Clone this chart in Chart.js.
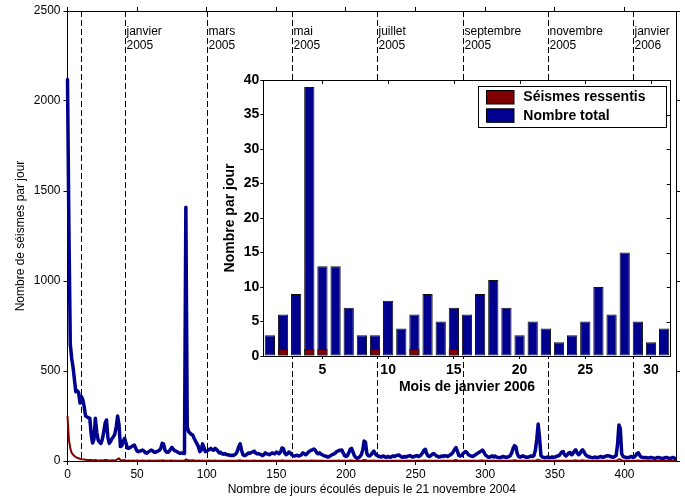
<!DOCTYPE html>
<html>
<head>
<meta charset="utf-8">
<script src="https://cdn.jsdelivr.net/npm/chart.js@4.4.0/dist/chart.umd.min.js"></script>
<style>
  html, body { margin: 0; padding: 0; background: #fff; }
  #wrap { position: relative; width: 685px; height: 499px; }
  #mainChart { position: absolute; left: 0; top: 0; }
  #insetChart { position: absolute; left: 200px; top: 60px; }
</style>
</head>
<body>
<div id="wrap">
  <canvas id="mainChart" width="685" height="499"></canvas>
  <canvas id="insetChart" width="485" height="340"></canvas>
</div>
<script>
// nombre total de seismes par jour, jour 0 = 21 novembre 2004
var totalPerDay = [
  2120, 1300, 650, 570, 520, 450, 385, 390, 380, 322,
  357, 340, 300, 250, 245, 240, 238, 150, 100, 120,
  238, 160, 117, 105, 98, 120, 160, 210, 228, 130,
  98, 110, 125, 135, 150, 190, 250, 200, 80, 85,
  110, 126, 100, 72, 70, 75, 80, 85, 89, 70,
  55, 52, 55, 58, 61, 55, 45, 43, 50, 55,
  61, 58, 50, 48, 52, 55, 60, 70, 98, 95,
  60, 50, 48, 55, 65, 76, 65, 57, 55, 50,
  45, 43, 45, 43, 42, 1410, 190, 163, 155, 148,
  144, 125, 110, 95, 80, 52, 60, 95, 75, 52,
  55, 60, 65, 70, 62, 60, 70, 65, 55, 45,
  48, 40, 38, 42, 36, 35, 33, 30, 32, 30,
  35, 40, 55, 80, 95, 60, 35, 30, 32, 38,
  45, 42, 48, 50, 55, 45, 40, 42, 38, 35,
  30, 35, 45, 40, 38, 35, 40, 45, 42, 40,
  50, 45, 40, 50, 72, 70, 45, 35, 40, 50,
  45, 35, 30, 28, 30, 32, 28, 30, 35, 45,
  40, 35, 40, 50, 55, 60, 62, 67, 60, 45,
  40, 45, 38, 35, 30, 28, 25, 22, 25, 30,
  35, 38, 42, 50, 55, 58, 60, 61, 45, 30,
  25, 30, 45, 65, 70, 50, 30, 20, 15, 18,
  25, 35, 60, 111, 105, 40, 30, 28, 35, 45,
  55, 40, 32, 30, 25, 22, 25, 28, 22, 20,
  25, 22, 20, 25, 28, 25, 30, 32, 33, 28,
  22, 20, 25, 22, 25, 28, 30, 25, 22, 25,
  28, 30, 25, 28, 35, 45, 60, 65, 40, 28,
  25, 30, 38, 42, 35, 28, 25, 22, 25, 28,
  25, 30, 28, 25, 30, 35, 40, 50, 65, 74,
  55, 30, 28, 30, 40, 48, 52, 45, 35, 30,
  28, 25, 30, 35, 40, 45, 50, 55, 61, 50,
  35, 28, 22, 20, 25, 28, 22, 28, 22, 20,
  18, 20, 22, 25, 22, 20, 22, 25, 30, 45,
  70, 85, 80, 40, 25, 22, 25, 28, 25, 22,
  20, 22, 25, 28, 25, 30, 60, 120, 205, 130,
  30, 22, 20, 18, 20, 22, 18, 20, 22, 20,
  22, 25, 28, 30, 40, 50, 52, 35, 28, 35,
  45, 47, 35, 40, 55, 62, 45, 35, 40, 55,
  62, 50, 35, 28, 25, 22, 20, 18, 20, 22,
  18, 20, 22, 25, 22, 20, 25, 28, 30, 28,
  25, 22, 20, 25, 30, 90, 200, 180, 40, 25,
  22, 20, 18, 20, 22, 25, 20, 22, 30, 42,
  46, 30, 22, 20, 18, 20, 18, 16, 18, 20,
  18, 16, 15, 18, 20, 18, 16, 15, 15, 18,
  20, 18, 15, 14, 18, 20, 15, 12
];

// seismes ressentis par jour
var feltPerDay = [
  250, 120, 70, 45, 35, 28, 22, 18, 15, 12,
  10, 9, 8, 7, 6, 6, 5, 5, 4, 4,
  6, 4, 3, 3, 4, 3, 4, 5, 6, 4,
  3, 3, 4, 3, 4, 6, 10, 15, 5, 3,
  4, 5, 3, 2, 3, 2, 2, 3, 2, 2,
  3, 2, 1, 2, 3, 2, 1, 2, 2, 3,
  2, 1, 2, 2, 1, 3, 2, 2, 4, 3,
  2, 1, 2, 2, 3, 3, 2, 1, 2, 2,
  1, 2, 2, 1, 2, 9, 5, 4, 3, 3,
  4, 3, 2, 2, 3, 1, 2, 3, 2, 1,
  2, 2, 3, 2, 1, 2, 3, 2, 2, 1,
  1, 2, 1, 1, 2, 1, 1, 2, 1, 1,
  1, 2, 2, 3, 4, 2, 1, 1, 1, 2,
  2, 1, 2, 2, 3, 2, 1, 1, 2, 1,
  1, 1, 2, 1, 1, 1, 2, 2, 1, 1,
  2, 1, 1, 2, 3, 3, 2, 1, 1, 2,
  1, 1, 1, 0, 1, 1, 0, 1, 1, 2,
  1, 1, 1, 2, 2, 3, 2, 3, 2, 1,
  1, 2, 1, 1, 1, 0, 1, 0, 1, 1,
  1, 1, 2, 2, 2, 3, 2, 2, 1, 1,
  1, 1, 2, 3, 3, 2, 1, 0, 0, 1,
  1, 1, 3, 6, 5, 2, 1, 1, 1, 2,
  3, 2, 1, 1, 1, 0, 1, 1, 0, 1,
  1, 0, 1, 1, 1, 1, 1, 2, 1, 1,
  1, 0, 1, 1, 1, 1, 1, 1, 0, 1,
  1, 1, 1, 1, 1, 2, 3, 3, 1, 1,
  1, 1, 2, 2, 1, 1, 1, 0, 1, 1,
  1, 1, 1, 1, 1, 2, 2, 2, 4, 6,
  3, 1, 1, 1, 2, 2, 2, 2, 1, 1,
  1, 1, 1, 1, 2, 2, 2, 3, 3, 2,
  1, 1, 1, 0, 1, 1, 1, 1, 1, 0,
  0, 1, 1, 1, 1, 1, 1, 1, 1, 2,
  3, 4, 3, 2, 1, 1, 1, 1, 1, 1,
  1, 1, 1, 1, 1, 1, 2, 5, 8, 5,
  1, 1, 1, 0, 1, 1, 0, 1, 1, 1,
  1, 1, 1, 1, 2, 2, 2, 1, 1, 1,
  2, 2, 1, 2, 3, 4, 2, 1, 2, 3,
  4, 2, 1, 1, 1, 1, 0, 0, 1, 1,
  0, 1, 1, 1, 1, 0, 1, 1, 1, 1,
  1, 1, 0, 1, 1, 4, 10, 8, 2, 1,
  1, 1, 0, 1, 1, 1, 1, 1, 2, 2,
  3, 1, 1, 1, 0, 1, 0, 0, 1, 1,
  1, 0, 0, 1, 1, 0, 0, 0, 0, 1,
  1, 1, 0, 0, 1, 1, 0, 0
];

var dayTicks = [0, 50, 100, 150, 200, 250, 300, 350, 400];
var countTicks = [0, 500, 1000, 1500, 2000, 2500];

// debut de mois (jours depuis le 21/11/2004)
var monthStarts = [10, 41, 100, 161, 222, 284, 345, 406];
var monthNames = ['', 'janvier', 'mars', 'mai', 'juillet', 'septembre', 'novembre', 'janvier'];
var monthYears = ['', '2005', '2005', '2005', '2005', '2005', '2005', '2006'];

// encart : janvier 2006
var janDays = [1, 2, 3, 4, 5, 6, 7, 8, 9, 10, 11, 12, 13, 14, 15, 16, 17, 18, 19, 20, 21, 22, 23, 24, 25, 26, 27, 28, 29, 30, 31];
var janTotal = [3, 6, 9, 39, 13, 13, 7, 3, 3, 8, 4, 6, 9, 5, 7, 6, 9, 11, 7, 3, 5, 4, 2, 3, 5, 10, 6, 15, 5, 2, 4];
var janFelt = [0, 1, 0, 1, 1, 0, 0, 0, 1, 0, 0, 1, 0, 0, 1, 0, 0, 0, 0, 0, 0, 0, 0, 0, 0, 0, 0, 0, 0, 0, 0];
var janTicksX = [5, 10, 15, 20, 25, 30];
var janTicksY = [0, 5, 10, 15, 20, 25, 30, 35, 40];

const BLUE = '#00008f';
const RED = '#800000';

Chart.defaults.font.family = '"Liberation Sans", Arial, sans-serif';
Chart.defaults.color = '#000';

function setTicks(values) {
    return function (scale) {
        scale.ticks = values.map(v => ({ value: v }));
    };
}
const plainLabel = v => String(v);

const monthLines = {
    id: 'monthLines',
    beforeDatasetsDraw(chart) {
        const ctx = chart.ctx;
        const a = chart.chartArea;
        const x = chart.scales.x;
        ctx.save();
        ctx.strokeStyle = '#000';
        ctx.lineWidth = 1;
        ctx.setLineDash([6, 3]);
        ctx.fillStyle = '#000';
        ctx.font = '12px "Liberation Sans", Arial, sans-serif';
        ctx.textBaseline = 'alphabetic';
        monthStarts.forEach((d, i) => {
            const px = Math.round(x.getPixelForValue(d)) + 0.5;
            ctx.beginPath();
            ctx.moveTo(px, a.top);
            ctx.lineTo(px, a.bottom);
            ctx.stroke();
            if (monthNames[i]) {
                ctx.fillText(monthNames[i], px + 1, a.top + 23.5);
                ctx.fillText(monthYears[i], px + 1, a.top + 37.5);
            }
        });
        ctx.restore();
    }
};

var mainChart = new Chart(document.getElementById('mainChart'), {
    type: 'line',
    data: {
        datasets: [{
            label: 'Séismes ressentis',
            data: feltPerDay.map((v, i) => ({ x: i, y: v })),
            xAxisID: 'x', yAxisID: 'y',
            borderColor: RED,
            borderWidth: 2,
            pointRadius: 0,
            borderJoinStyle: 'round',
            clip: { left: 3, top: 0, right: 0, bottom: 2 }
        }, {
            label: 'Nombre total',
            data: totalPerDay.map((v, i) => ({ x: i, y: v })),
            xAxisID: 'x', yAxisID: 'y',
            borderColor: BLUE,
            borderWidth: 3.5,
            pointRadius: 0,
            borderJoinStyle: 'round',
            borderCapStyle: 'round',
            clip: { left: 3, top: 0, right: 0, bottom: 2 }
        }]
    },
    options: {
        responsive: false,
        animation: false,
        layout: { padding: 0 },
        plugins: { legend: { display: false }, tooltip: { enabled: false } },
        scales: {
            x: {
                type: 'linear', position: 'bottom', min: 0, max: 437,
                afterBuildTicks: setTicks(dayTicks),
                afterFit: s => { s.height = 38; },
                grid: { drawOnChartArea: false, tickLength: 4, color: '#000' },
                border: { color: '#000' },
                ticks: { font: { size: 12 }, padding: 2, maxRotation: 0, callback: plainLabel },
                title: {
                    display: true, text: 'Nombre de jours écoulés depuis le 21 novembre 2004',
                    font: { size: 12 }, padding: { top: 0, bottom: 2 }
                }
            },
            xTop: {
                type: 'linear', position: 'top', min: 0, max: 437,
                afterBuildTicks: setTicks(dayTicks),
                afterFit: s => { s.height = 11; },
                grid: { drawOnChartArea: false, tickLength: 4, color: '#000' },
                border: { color: '#000' },
                ticks: { display: false }
            },
            y: {
                type: 'linear', position: 'left', min: 0, max: 2500,
                afterBuildTicks: setTicks(countTicks),
                afterFit: s => { s.width = 67.5; },
                grid: { drawOnChartArea: false, tickLength: 4, color: '#000' },
                border: { color: '#000' },
                ticks: { font: { size: 12 }, padding: 3, callback: plainLabel },
                title: {
                    display: true, text: 'Nombre de séismes par jour',
                    font: { size: 12 }, padding: { top: 13, bottom: 0 }
                }
            },
            yRight: {
                type: 'linear', position: 'right', min: 0, max: 2500,
                afterBuildTicks: setTicks(countTicks),
                afterFit: s => { s.width = 9; },
                grid: { drawOnChartArea: false, tickLength: 4, color: '#000' },
                border: { color: '#000' },
                ticks: { display: false }
            }
        }
    },
    plugins: [monthLines]
});

const insetFrame = {
    id: 'insetFrame',
    beforeDraw(chart) {
        const a = chart.chartArea;
        chart.ctx.save();
        chart.ctx.fillStyle = '#fff';
        chart.ctx.fillRect(a.left, a.top, a.right - a.left, a.bottom - a.top);
        chart.ctx.restore();
    },
    afterDraw(chart) {
        const ctx = chart.ctx;
        const a = chart.chartArea;
        const sx = chart.scales.x;
        const sy = chart.scales.y;
        ctx.save();
        ctx.strokeStyle = '#000';
        ctx.lineWidth = 1;
        ctx.strokeRect(Math.round(a.left) + 0.5, Math.round(a.top) + 0.5,
            Math.round(a.right - a.left), Math.round(a.bottom - a.top));
        // petites graduations vers l'interieur en haut et a droite
        ctx.beginPath();
        janTicksX.forEach(v => {
            const px = Math.round(sx.getPixelForValue(v)) + 0.5;
            ctx.moveTo(px, a.top);
            ctx.lineTo(px, a.top + 4);
        });
        janTicksY.forEach(v => {
            const py = Math.round(sy.getPixelForValue(v)) + 0.5;
            ctx.moveTo(a.right - 4, py);
            ctx.lineTo(a.right, py);
        });
        ctx.stroke();

        // legende
        ctx.fillStyle = '#fff';
        ctx.fillRect(278.5, 26.5, 188, 41);
        ctx.strokeRect(278.5, 26.5, 188, 41);
        ctx.font = 'bold 14px "Liberation Sans", Arial, sans-serif';
        ctx.textBaseline = 'middle';
        chart.data.datasets.forEach((ds, i) => {
            const top = 30.5 + i * 18.3;
            ctx.fillStyle = ds.backgroundColor;
            ctx.fillRect(286.5, top, 27.5, 13.5);
            ctx.strokeRect(286.5, top, 27.5, 13.5);
            ctx.fillStyle = '#000';
            ctx.fillText(ds.label, 323.3, top + 7);
        });
        ctx.restore();
    }
};

var insetChart = new Chart(document.getElementById('insetChart'), {
    type: 'bar',
    data: {
        datasets: [{
            label: 'Séismes ressentis',
            data: janDays.map((d, i) => ({ x: d, y: janFelt[i] || null })),
            backgroundColor: RED
        }, {
            label: 'Nombre total',
            data: janDays.map((d, i) => ({ x: d, y: janTotal[i] })),
            backgroundColor: BLUE
        }]
    },
    options: {
        responsive: false,
        animation: false,
        layout: { padding: { top: 20, right: 14.3, left: 0, bottom: 0 } },
        datasets: {
            bar: {
                grouped: false, barPercentage: 0.78, categoryPercentage: 1,
                borderColor: '#111', borderWidth: 1, borderSkipped: false
            }
        },
        plugins: { legend: { display: false }, tooltip: { enabled: false } },
        scales: {
            x: {
                type: 'linear', min: 0.5, max: 31.5, offset: false,
                afterBuildTicks: setTicks(janTicksX),
                afterFit: s => { s.height = 44; },
                grid: { drawOnChartArea: false, tickLength: 3, color: '#000', offset: false },
                border: { color: '#000' },
                ticks: { font: { size: 14, weight: 'bold' }, padding: 3, maxRotation: 0, callback: plainLabel },
                title: {
                    display: true, text: 'Mois de janvier 2006',
                    font: { size: 14, weight: 'bold' }, padding: { top: 0, bottom: 4 }
                }
            },
            y: {
                type: 'linear', min: 0, max: 40,
                afterBuildTicks: setTicks(janTicksY),
                afterFit: s => { s.width = 63.3; },
                grid: { drawOnChartArea: false, tickLength: 3, color: '#000' },
                border: { color: '#000' },
                ticks: { font: { size: 14, weight: 'bold' }, padding: 1, callback: plainLabel },
                title: {
                    display: true, text: 'Nombre par jour',
                    font: { size: 14, weight: 'bold' }, padding: { top: 22, bottom: 0 }
                }
            }
        }
    },
    plugins: [insetFrame]
});
</script>
</body>
</html>
